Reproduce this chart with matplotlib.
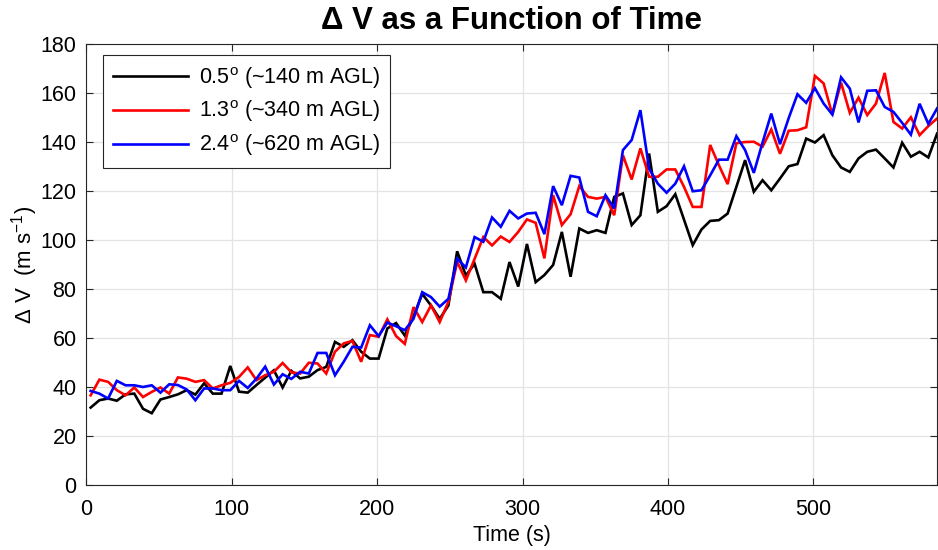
import matplotlib
matplotlib.use("Agg")
import matplotlib.pyplot as plt

plt.rcParams["font.family"] = ["Liberation Sans", "DejaVu Sans"]
plt.rcParams["mathtext.fontset"] = "custom"
plt.rcParams["mathtext.rm"] = "Liberation Sans"
plt.rcParams["mathtext.it"] = "Liberation Sans:italic"
plt.rcParams["mathtext.bf"] = "Liberation Sans:bold"

# Sample times (s)
time_s = [3, 9, 15, 21, 27, 33, 39, 45, 51, 57, 63, 69, 75, 81, 87, 93, 99, 105,
          111, 117, 123, 129, 135, 141, 147, 153, 159, 165, 171, 177, 183, 189,
          195, 201, 207, 213, 219, 225, 231, 237, 243, 249, 255, 261, 267, 273,
          279, 285, 291, 297, 303, 309, 315, 321, 327, 333, 339, 345, 351, 357,
          363, 369, 375, 381, 387, 393, 399, 405, 411, 417, 423, 429, 435, 441,
          447, 453, 459, 465, 471, 477, 483, 489, 495, 501, 507, 513, 519, 525,
          531, 537, 543, 549, 555, 561, 567, 573, 579, 585]

# Delta V (m/s) at each elevation angle
dv_05 = [31.8, 34.8, 35.5, 34.6, 37.2, 37.5, 31.3, 29.5, 35.1, 36.1,
         37.2, 38.9, 37.1, 41.7, 37.5, 37.5, 48.8, 38.3, 37.9, 41.0,
         44.0, 47.0, 40.0, 46.8, 43.7, 44.4, 47.1, 48.4, 58.6, 56.6,
         59.3, 54.6, 51.8, 51.8, 64.1, 66.3, 61.2, 69.0, 78.2, 73.5,
         68.0, 73.5, 95.6, 85.7, 90.5, 78.9, 78.9, 76.2, 91.2, 81.2,
         98.6, 83.0, 85.9, 90.0, 103.5, 85.2, 104.9, 103.1, 104.2, 103.1,
         117.8, 119.2, 106.3, 110.3, 135.5, 111.7, 114.0, 118.9, 108.5, 98.1,
         104.5, 108.0, 108.3, 111.0, 121.9, 132.8, 119.9, 124.6, 120.5, 125.3,
         130.3, 131.2, 141.6, 140.0, 143.0, 134.8, 129.8, 128.0, 133.5, 136.2,
         137.1, 133.5, 129.8, 139.9, 134.2, 136.2, 133.9, 143.6]

dv_13 = [36.8, 43.2, 42.3, 38.9, 36.8, 40.0, 36.1, 38.2, 40.0, 37.5,
         44.1, 43.6, 42.3, 43.0, 39.6, 40.9, 41.9, 44.3, 48.2, 43.0,
         45.0, 46.4, 50.0, 46.2, 45.7, 50.1, 49.8, 45.7, 54.6, 58.0,
         59.0, 50.5, 61.4, 60.7, 67.8, 61.0, 57.8, 72.8, 66.7, 73.5,
         66.7, 75.0, 91.3, 83.7, 92.5, 101.4, 98.0, 101.6, 99.4, 103.5,
         108.6, 107.2, 92.7, 118.5, 106.3, 110.7, 122.2, 117.8, 117.1, 117.8,
         110.3, 134.8, 124.9, 137.6, 126.0, 126.0, 129.0, 129.0, 121.9, 113.7,
         113.7, 139.0, 130.7, 123.0, 139.7, 140.2, 140.3, 138.3, 145.3, 135.4,
         144.8, 145.0, 146.2, 167.2, 164.1, 151.4, 164.4, 152.1, 158.3, 151.2,
         155.9, 168.4, 148.4, 145.7, 150.3, 143.0, 146.7, 149.8]

dv_24 = [38.6, 37.5, 35.5, 42.7, 40.9, 40.9, 40.2, 40.9, 37.9, 41.3,
         41.0, 39.2, 34.8, 39.6, 39.6, 38.9, 38.9, 42.7, 39.8, 43.6,
         48.5, 41.2, 45.4, 43.5, 46.4, 45.7, 54.1, 54.1, 45.0, 50.5,
         56.6, 56.3, 65.4, 61.0, 66.5, 65.0, 63.4, 68.0, 78.9, 76.9,
         73.0, 76.2, 92.6, 89.0, 101.4, 99.5, 109.4, 105.6, 112.1, 109.0,
         111.0, 111.3, 102.6, 122.2, 114.4, 126.4, 125.7, 111.7, 109.9, 118.5,
         113.1, 136.9, 141.0, 153.2, 129.3, 123.2, 119.5, 123.2, 130.3, 120.1,
         120.5, 126.6, 133.0, 133.0, 142.6, 136.9, 127.6, 140.0, 151.8, 139.3,
         150.0, 159.7, 156.2, 162.2, 155.9, 151.4, 166.6, 162.0, 148.2, 161.1,
         161.3, 154.5, 152.5, 148.0, 143.2, 155.8, 147.6, 153.9]

labels = ["0.5$^{\\mathrm{o}}$ (~140 m AGL)",
          "1.3$^{\\mathrm{o}}$ (~340 m AGL)",
          "2.4$^{\\mathrm{o}}$ (~620 m AGL)"]
colors = ["#000000", "#ff0000", "#0000ff"]

x_ticks = [0, 100, 200, 300, 400, 500]
y_ticks = [0, 20, 40, 60, 80, 100, 120, 140, 160, 180]

fig = plt.figure(figsize=(9.38, 5.5), dpi=100)
ax = fig.add_axes([0.092, 0.1173, 0.907, 0.8018])

for series, lab, col in zip([dv_05, dv_13, dv_24], labels, colors):
    ax.plot(time_s, series, color=col, lw=1.9, label=lab, solid_joinstyle="miter")

ax.set_xlim(0, 585)
ax.set_ylim(0, 180)
ax.set_xticks(x_ticks)
ax.set_yticks(y_ticks)
ax.grid(True, color="#e3e3e3", lw=0.9)
ax.set_axisbelow(True)
ax.tick_params(direction="in", length=5, width=0.8, labelsize=15.5,
               top=True, right=True, colors="#262626", labelcolor="black")
ax.tick_params(axis="x", pad=10)
ax.tick_params(axis="y", pad=7)
for sp in ax.spines.values():
    sp.set_color("#262626")
    sp.set_linewidth(0.8)

ax.set_xlabel("Time (s)", fontsize=15.5, labelpad=3)
ax.set_ylabel("$\\Delta$ V  (m s$^{-1}$)", fontsize=16, labelpad=0)
ax.set_title("\u0394 V as a Function of Time", fontsize=22.5, fontweight="bold", pad=11)

leg = ax.legend(loc="upper left", bbox_to_anchor=(0.0196, 0.976), borderaxespad=0,
                fontsize=15.5, handlelength=3.5, handletextpad=0.5,
                labelspacing=0.37, borderpad=0.45, fancybox=False, framealpha=1)
leg.get_frame().set_edgecolor("#262626")
leg.get_frame().set_linewidth(0.8)

fig.savefig("out.png", dpi=100)
